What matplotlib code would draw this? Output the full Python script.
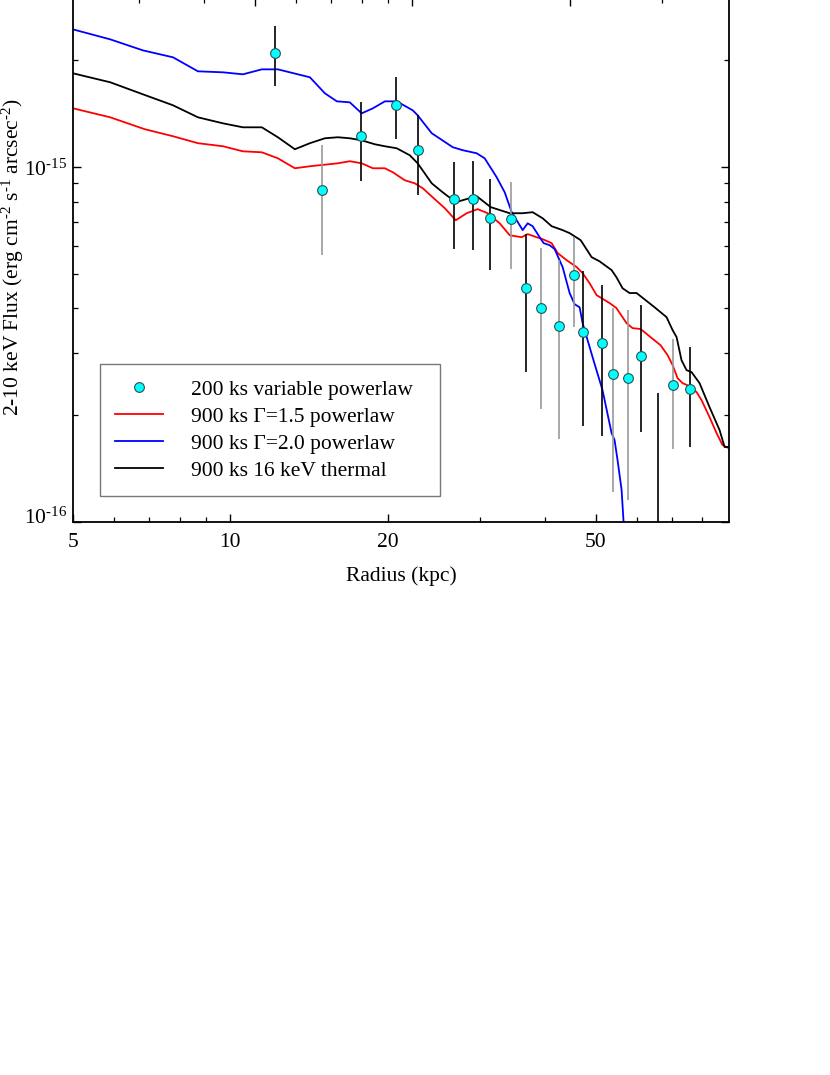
import numpy as np
import matplotlib
matplotlib.use("Agg")
import matplotlib.pyplot as plt
from matplotlib.ticker import FixedLocator, NullFormatter, FixedFormatter
from matplotlib.transforms import ScaledTranslation

plt.rcParams['font.family'] = ['Liberation Serif', 'DejaVu Serif']
plt.rcParams['mathtext.fontset'] = 'custom'
plt.rcParams['mathtext.rm'] = 'Liberation Serif'
plt.rcParams['mathtext.it'] = 'Liberation Serif:italic'
plt.rcParams['mathtext.bf'] = 'Liberation Serif:bold'

# 200 ks data points (flux in units of 1e-15)
r_pts = [12.17, 14.97, 17.77, 20.73, 22.83, 26.76, 29.09, 31.36, 34.39, 36.74, 39.25,
         42.49, 45.38, 47.22, 51.35, 53.9, 57.55, 61.2, 65.7, 70.2, 75.95]
f_pts = [2.095, 0.861, 1.223, 1.495, 1.117, 0.813, 0.813, 0.718, 0.714, 0.456, 0.401,
         0.3565, 0.496, 0.343, 0.319, 0.261, 0.2544, 0.2935, 0.07, 0.243, 0.2369]
f_hi = [2.496, 1.153, 1.524, 1.793, 1.401, 1.033, 1.040, 0.925, 0.907, 0.648, 0.591,
        0.547, 0.635, 0.509, 0.465, 0.401, 0.3956, 0.4087, 0.2309, 0.3278, 0.311]
f_lo = [1.70, 0.565, 0.913, 1.199, 0.834, 0.588, 0.584, 0.513, 0.516, 0.2646, 0.208,
        0.1713, 0.354, 0.1864, 0.1747, 0.1215, 0.1153, 0.1793, 0.02, 0.1606, 0.1627]
err_gray = [False, True, False, False, False, False, False, False, True, False, True,
            True, True, False, False, True, True, False, False, True, False]

# 900 ks Gamma=1.5 powerlaw
r_red = [5.00, 5.89, 6.86, 7.77, 8.67, 9.68, 10.57, 11.49, 12.33, 13.29, 14.20, 16.06,
         16.93, 17.84, 18.74, 19.76, 20.46, 21.57, 22.54, 23.34, 24.50, 25.72, 27.00,
         28.33, 29.74, 31.08, 32.77, 34.25, 36.10, 37.07, 38.56, 39.60, 41.20, 42.30,
         44.02, 46.00, 47.22, 48.70, 50.22, 51.55, 53.19, 54.8, 57.3, 58.83, 60.95,
         63.70, 66.57, 68.66, 70.2, 71.75, 73.33, 75.62, 78.0, 79.73, 82.60, 85.2,
         87.45, 89.8]
f_red = [1.466, 1.383, 1.280, 1.223, 1.169, 1.146, 1.109, 1.102, 1.060, 0.9935, 1.0065,
         1.026, 1.040, 1.026, 0.9935, 0.9935, 0.968, 0.919, 0.901, 0.873, 0.818, 0.767,
         0.709, 0.742, 0.762, 0.742, 0.695, 0.643, 0.635, 0.648, 0.635, 0.627, 0.611,
         0.573, 0.547, 0.523, 0.503, 0.471, 0.436, 0.426, 0.414, 0.401, 0.3636, 0.352,
         0.350, 0.332, 0.315, 0.2954, 0.277, 0.2544, 0.2463, 0.2416, 0.2324, 0.2207,
         0.1976, 0.1781, 0.1648, 0.1616]

# 900 ks Gamma=2.0 powerlaw
r_blue = [5.00, 5.89, 6.80, 7.77, 8.67, 9.68, 10.57, 11.49, 12.33, 14.20, 15.17, 15.99,
          16.93, 17.84, 18.74, 19.76, 20.82, 22.34, 22.83, 24.29, 26.65, 27.85, 29.61,
          30.67, 32.34, 33.50, 34.55, 36.26, 37.07, 37.89, 39.08, 39.77, 40.83, 41.74,
          43.24, 44.60, 45.59, 46.60, 47.22, 49.34, 51.55, 53.65, 54.36, 55.08, 56.07,
          56.56, 57.0]
f_blue = [2.447, 2.294, 2.136, 2.041, 1.864, 1.852, 1.828, 1.888, 1.888, 1.793, 1.616,
          1.534, 1.524, 1.419, 1.466, 1.534, 1.534, 1.447, 1.401, 1.247, 1.139, 1.117,
          1.095, 1.060, 0.937, 0.850, 0.747, 0.665, 0.695, 0.682, 0.635, 0.611, 0.603,
          0.588, 0.523, 0.4417, 0.411, 0.403, 0.3636, 0.2915, 0.2353, 0.1781, 0.1702,
          0.1494, 0.1231, 0.100, 0.09]

# 900 ks 16 keV thermal
r_black = [5.00, 5.89, 6.80, 7.77, 8.67, 9.68, 10.57, 11.49, 12.33, 13.29, 14.20, 15.17,
           16.06, 16.93, 17.84, 18.90, 19.76, 20.82, 22.05, 22.83, 24.29, 25.49, 27.00,
           29.61, 31.49, 34.25, 36.26, 37.89, 39.60, 41.20, 43.24, 44.60, 46.81, 49.13,
           50.88, 53.65, 54.8, 56.31, 58.07, 59.90, 64.84, 68.35, 70.2, 71.44, 73.0,
           74.64, 76.30, 79.05, 82.60, 86.34, 88.27, 89.8]
f_black = [1.840, 1.736, 1.606, 1.495, 1.383, 1.330, 1.296, 1.296, 1.215, 1.124, 1.169,
           1.207, 1.215, 1.207, 1.191, 1.161, 1.146, 1.131, 1.081, 1.026, 0.901, 0.850,
           0.797, 0.829, 0.772, 0.742, 0.742, 0.747, 0.718, 0.682, 0.665, 0.652, 0.623,
           0.558, 0.543, 0.513, 0.490, 0.456, 0.442, 0.442, 0.403, 0.378, 0.3474, 0.332,
           0.286, 0.268, 0.2646, 0.2463, 0.2108, 0.1816, 0.1627, 0.1627]

kpc_per_arcsec = 2.23
HY = u'\u2010'  # plain hyphen look for the exponents

fig = plt.figure(figsize=(8.3, 10.75), dpi=100)
ax = fig.add_axes([73 / 830, 1 - 522 / 1075, 656 / 830, 524 / 1075])

ax.plot(r_red, np.array(f_red) * 1e-15, color='#ff0000', lw=1.3, label=u'900 ks \u0393=1.5 powerlaw')
ax.plot(r_blue, np.array(f_blue) * 1e-15, color='#0000ff', lw=1.3, label=u'900 ks \u0393=2.0 powerlaw')
ax.plot(r_black, np.array(f_black) * 1e-15, color='black', lw=1.3, label='900 ks 16 keV thermal')

y = np.array(f_pts) * 1e-15
yerr = [y - np.array(f_lo) * 1e-15, np.array(f_hi) * 1e-15 - y]
for i in range(len(r_pts)):
    c = '#999999' if err_gray[i] else 'black'
    ax.errorbar(r_pts[i], y[i], yerr=[[yerr[0][i]], [yerr[1][i]]], fmt='none',
                ecolor=c, elinewidth=1.2, capsize=0, zorder=3)
ax.plot(r_pts, y, 'o', ms=7, mfc='#00ffff', mec='#2f4f4f', mew=0.8,
        ls='none', zorder=4, label='200 ks variable powerlaw')

ax.set_xscale('log')
ax.set_yscale('log')
ax.set_xlim(5, 90)
ax.set_ylim(1e-16, 3e-15)

ax.xaxis.set_major_locator(FixedLocator([5, 10, 20, 50]))
ax.xaxis.set_major_formatter(FixedFormatter(['5', '10', '20', '50']))
ax.xaxis.set_minor_locator(FixedLocator([6, 7, 8, 9, 30, 40, 60, 70, 80]))
ax.xaxis.set_minor_formatter(NullFormatter())
ax.yaxis.set_major_locator(FixedLocator([1e-16, 1e-15]))
ax.yaxis.set_major_formatter(FixedFormatter(['10$^{' + HY + '16}$', '10$^{' + HY + '15}$']))
ax.yaxis.set_minor_locator(FixedLocator([k * 1e-16 for k in range(2, 10)] + [2e-15]))
ax.yaxis.set_minor_formatter(NullFormatter())

ax.tick_params(which='both', direction='in', right=True, top=False, labelsize=15.5)
ax.tick_params(axis='x', pad=8)
ax.tick_params(axis='y', pad=4)
ax.tick_params(which='major', length=6, width=1)
ax.tick_params(which='minor', length=3.5, width=0.9)
for s in ax.spines.values():
    s.set_linewidth(1.3)

sec = ax.secondary_xaxis('top', functions=(lambda v: v / kpc_per_arcsec,
                                           lambda v: v * kpc_per_arcsec))
sec.set_xscale('log')
sec.xaxis.set_major_locator(FixedLocator([5, 10, 20]))
sec.xaxis.set_minor_locator(FixedLocator([3, 4, 6, 7, 8, 9, 30]))
sec.xaxis.set_major_formatter(NullFormatter())
sec.xaxis.set_minor_formatter(NullFormatter())
sec.tick_params(which='both', direction='in')
sec.tick_params(which='major', length=6, width=1)
sec.tick_params(which='minor', length=3.5, width=0.9)

ax.set_xlabel('Radius (kpc)', fontsize=15.5, labelpad=10)
ax.set_ylabel('2-10 keV Flux (erg cm$^{' + HY + '2}$ s$^{' + HY + '1}$ arcsec$^{' + HY + '2}$)',
              fontsize=15.5)
ax.yaxis.set_label_coords(-0.072, 0.505)

# lift the lowest y label a little, as in the original
lab = ax.yaxis.get_major_ticks()[0].label1
lab.set_transform(lab.get_transform() + ScaledTranslation(0, 6 / 100, fig.dpi_scale_trans))

h, l = ax.get_legend_handles_labels()
order = [3, 0, 1, 2]
leg = ax.legend([h[i] for i in order], [l[i] for i in order], loc='lower left',
                bbox_to_anchor=(0.041, 0.0496, 0.518, 0.252), mode='expand',
                borderaxespad=0, fontsize=15.5, frameon=True, fancybox=False,
                edgecolor='#555555', handlelength=2.2, handletextpad=1.3,
                labelspacing=0.32, borderpad=0.72)
leg.get_frame().set_linewidth(1.0)

fig.savefig('out.png', dpi=100)
